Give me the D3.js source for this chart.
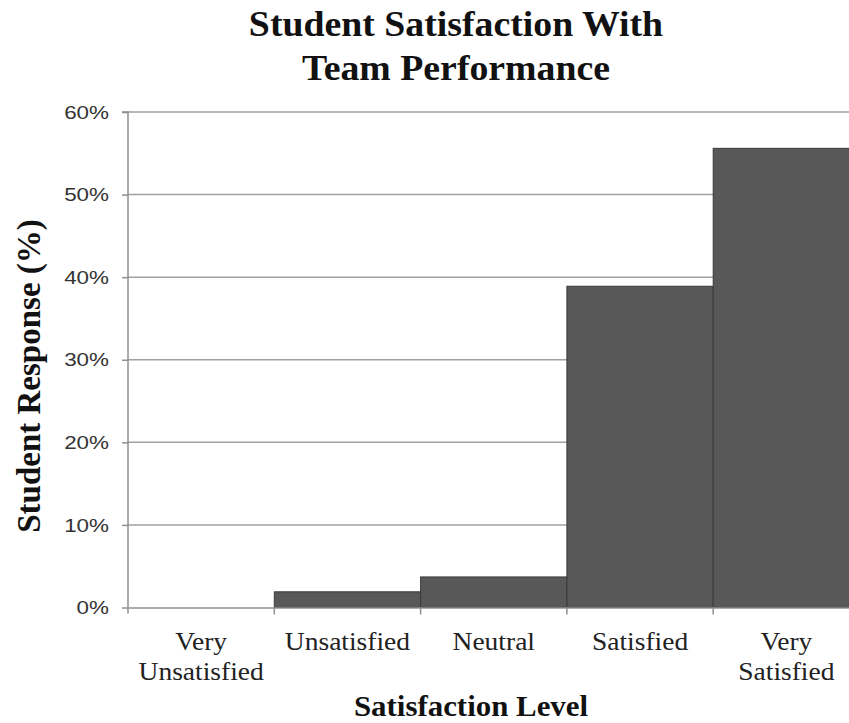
<!DOCTYPE html>
<html>
<head>
<meta charset="utf-8">
<script src="https://cdn.jsdelivr.net/npm/d3@7"></script>
<style>
  body { margin: 0; background: #fff; }
  svg { display: block; }
</style>
</head>
<body>
<svg id="chart" width="849" height="723"></svg>
<script>
const categories = ["Very\nUnsatisfied", "Unsatisfied", "Neutral", "Satisfied", "Very\nSatisfied"];
const responses = [0, 0.019, 0.037, 0.389, 0.556];
const yTicks = [0, 0.1, 0.2, 0.3, 0.4, 0.5, 0.6];
const titleLines = ["Student Satisfaction With", "Team Performance"];

function drawChart() {
  const svg = d3.select("#chart");
  const serif = "'Liberation Serif', 'Times New Roman', serif";
  const sans = "'Liberation Sans', Arial, sans-serif";

  const left = 128, bottom = 607.5, top = 112;
  const bandW = 146.3;

  const x = d3.scaleBand()
    .domain(categories)
    .range([left, left + bandW * categories.length])
    .padding(0);

  const y = d3.scaleLinear()
    .domain([0, 0.6])
    .range([bottom, top]);

  // gridlines
  svg.append("g")
    .selectAll("line")
    .data(yTicks.filter(d => d > 0))
    .enter().append("line")
    .attr("x1", left).attr("x2", 860)
    .attr("y1", d => y(d)).attr("y2", d => y(d))
    .attr("stroke", "#a0a0a0")
    .attr("stroke-width", 1.5);

  // bars
  svg.append("g")
    .selectAll("rect")
    .data(categories)
    .enter().append("rect")
    .attr("x", d => x(d))
    .attr("width", x.bandwidth())
    .attr("y", (d, i) => y(responses[i]))
    .attr("height", (d, i) => bottom - y(responses[i]))
    .attr("fill", "#585858")
    .attr("stroke", "#3a3a3a")
    .attr("stroke-width", 1);

  // y axis
  const yAxis = svg.append("g")
    .attr("transform", `translate(${left},0)`)
    .call(d3.axisLeft(y).tickValues(yTicks).tickFormat("").tickSize(6));
  yAxis.select(".domain").attr("stroke", "#909090").attr("stroke-width", 1.5)
    .attr("d", `M-6,${top}H0V${bottom + 6}`);
  yAxis.selectAll(".tick line").attr("stroke", "#909090").attr("stroke-width", 1.5);
  yAxis.selectAll(".tick text").remove();

  // tick labels, slightly widened like the source
  svg.append("g")
    .selectAll("text")
    .data(yTicks)
    .enter().append("text")
    .attr("transform", d => `translate(109,${y(d)}) scale(1.18,1)`)
    .attr("dy", "0.35em")
    .attr("text-anchor", "end")
    .style("font-family", sans)
    .style("font-size", "19px")
    .attr("fill", "#333")
    .text(d3.format(".0%"));

  // x axis
  const xAxis = svg.append("g")
    .attr("transform", `translate(0,${bottom})`)
    .call(d3.axisBottom(x).tickSize(0).tickFormat(""));
  xAxis.select(".domain").attr("stroke", "#909090").attr("stroke-width", 1.5);
  xAxis.selectAll(".tick").remove();

  // ticks at band boundaries
  xAxis.selectAll(".bound")
    .data(categories.slice(1))
    .enter().append("line")
    .attr("class", "bound")
    .attr("x1", d => x(d)).attr("x2", d => x(d))
    .attr("y1", 0).attr("y2", 7)
    .attr("stroke", "#909090")
    .attr("stroke-width", 1.5);

  // category labels
  const labels = svg.append("g")
    .selectAll("text")
    .data(categories)
    .enter().append("text")
    .attr("transform", d => `translate(${x(d) + x.bandwidth() / 2},650) scale(1.1,1)`)
    .attr("text-anchor", "middle")
    .style("font-family", serif)
    .style("font-size", "25px")
    .attr("fill", "#222");
  labels.each(function (d) {
    const t = d3.select(this);
    d.split("\n").forEach((line, i) => {
      t.append("tspan")
        .attr("x", 0)
        .attr("dy", i === 0 ? 0 : 30)
        .text(line);
    });
  });

  // title
  svg.append("g")
    .selectAll("text")
    .data(titleLines)
    .enter().append("text")
    .attr("transform", (d, i) => `translate(456,${36 + i * 44}) scale(1.08,1)`)
    .attr("text-anchor", "middle")
    .style("font-family", serif)
    .style("font-size", "35px")
    .style("font-weight", "bold")
    .attr("fill", "#111")
    .text(d => d);

  // axis titles
  svg.append("text")
    .attr("transform", "translate(471,716) scale(1.03,1)")
    .attr("text-anchor", "middle")
    .style("font-family", serif)
    .style("font-size", "30px")
    .style("font-weight", "bold")
    .attr("fill", "#111")
    .text("Satisfaction Level");

  svg.append("text")
    .attr("transform", "translate(40,376) rotate(-90)")
    .attr("text-anchor", "middle")
    .style("font-family", serif)
    .style("font-size", "33px")
    .style("font-weight", "bold")
    .attr("fill", "#111")
    .text("Student Response (%)");
}

drawChart();
</script>
</body>
</html>
